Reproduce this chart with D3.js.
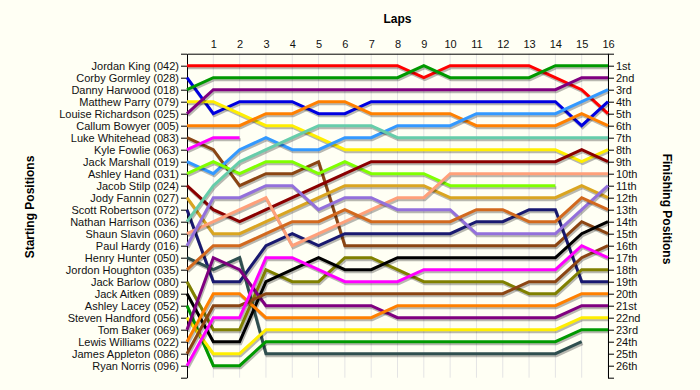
<!DOCTYPE html>
<html>
<head>
<meta charset="utf-8">
<script src="https://cdn.jsdelivr.net/npm/d3@7/dist/d3.min.js"></script>
<style>
  html, body { margin: 0; padding: 0; background: #fffff4; }
  svg { display: block; font-family: "Liberation Sans", Arial, sans-serif; }
</style>
</head>
<body>
<div id="lapChart"></div>
<script>
const laps = [0, 1, 2, 3, 4, 5, 6, 7, 8, 9, 10, 11, 12, 13, 14, 15, 16]

const drivers = [
  "Jordan King (042)", "Corby Gormley (028)", "Danny Harwood (018)", "Matthew Parry (079)",
  "Louise Richardson (025)", "Callum Bowyer (005)", "Luke Whitehead (083)", "Kyle Fowlie (063)",
  "Jack Marshall (019)", "Ashley Hand (031)", "Jacob Stilp (024)", "Jody Fannin (027)",
  "Scott Robertson (072)", "Nathan Harrison (036)", "Shaun Slavin (060)", "Paul Hardy (016)",
  "Henry Hunter (050)", "Jordon Houghton (035)", "Jack Barlow (080)", "Jack Aitken (089)",
  "Ashley Lacey (052)", "Steven Handford (056)", "Tom Baker (069)", "Lewis Williams (022)",
  "James Appleton (086)", "Ryan Norris (096)"
]

const finishLabels = [
  "1st", "2nd", "3rd", "4th", "5th", "6th", "7th", "8th", "9th", "10th", "11th", "12th", "13th",
  "14th", "15th", "16th", "17th", "18th", "19th", "20th", "21st", "22nd", "23rd", "24th", "25th", "26th"
]

// running position of each driver, lap 0 (grid) onwards; short rows = retired
const lapPositions = [
  [1, 1, 1, 1, 1, 1, 1, 1, 1, 2, 1, 1, 1, 1, 2, 3, 5],
  [2, 5, 4, 4, 4, 5, 5, 4, 4, 4, 4, 4, 4, 4, 4, 6, 4],
  [3, 2, 2, 2, 2, 2, 2, 2, 2, 1, 2, 2, 2, 2, 1, 1, 1],
  [4, 4, 5, 6, 6, 7, 8, 8, 8, 8, 8, 8, 8, 8, 8, 9, 8],
  [5, 3, 3, 3, 3, 3, 3, 3, 3, 3, 3, 3, 3, 3, 3, 2, 2],
  [6, 6, 6, 5, 5, 4, 4, 5, 5, 5, 5, 6, 6, 6, 6, 5, 6],
  [7, 8, 11, 10, 10, 9, 16, 16, 16, 16, 16, 16, 16, 16, 16, 14, 15],
  [8, 7, 7],
  [9, 10, 8, 7, 8, 8, 7, 7, 6, 6, 6, 5, 5, 5, 5, 4, 3],
  [10, 9, 10, 9, 9, 10, 9, 10, 10, 10, 11, 11, 11, 11, 11],
  [11, 13, 14, 13, 12, 11, 10, 9, 9, 9, 9, 9, 9, 9, 9, 8, 9],
  [12, 15, 15, 14, 13, 12, 11, 11, 11, 11, 12, 12, 12, 12, 12, 11, 12],
  [13, 19, 19, 16, 15, 16, 15, 15, 15, 15, 15, 14, 14, 13, 13, 19, 19],
  [14, 11, 9, 8, 7, 6, 6, 6, 7, 7, 7, 7, 7, 7, 7, 7, 7],
  [15, 14, 13, 12, 16, 15, 14, 13, 12, 12, 10, 10, 10, 10, 10, 10, 10],
  [16, 12, 12, 11, 11, 13, 12, 12, 13, 13, 13, 15, 15, 15, 15, 13, 11],
  [17, 18, 17, 25, 25, 25, 25, 25, 25, 25, 25, 25, 25, 25, 25, 24],
  [18, 16, 16, 15, 14, 14, 13, 14, 14, 14, 14, 13, 13, 14, 14, 12, 13],
  [19, 23, 23, 18, 19, 19, 17, 17, 18, 19, 19, 19, 19, 20, 20, 18, 18],
  [20, 24, 24, 19, 18, 17, 18, 18, 17, 17, 17, 17, 17, 17, 17, 15, 14],
  [21, 26, 26, 24, 24, 24, 24, 24, 24, 24, 24, 24, 24, 24, 24, 23, 23],
  [22, 25, 25, 23, 23, 23, 23, 23, 23, 23, 23, 23, 23, 23, 23, 22, 22],
  [23, 17, 18, 21, 21, 21, 21, 21, 22, 22, 22, 22, 22, 22, 22, 21, 21],
  [24, 20, 20, 22, 22, 22, 22, 22, 21, 21, 21, 21, 21, 21, 21, 20, 20],
  [25, 21, 21, 20, 20, 20, 20, 20, 20, 20, 20, 20, 20, 19, 19, 17, 16],
  [26, 22, 22, 17, 17, 18, 19, 19, 19, 18, 18, 18, 18, 18, 18, 16, 17]
]

const lineColors = [
  "#ff0000", "#0000e0", "#009900", "#ffee00", "#800080", "#ff8000", "#8b4513", "#ff00ff",
  "#3399ff", "#80ff00", "#8b0000", "#daa520", "#191970", "#66cdaa", "#ffa07a", "#9370db",
  "#2f4f4f", "#d2691e", "#808000", "#000000", "#009900", "#ffee00", "#800080", "#ff8000",
  "#8b4513", "#ff00ff"
]

const width = 700
const height = 390
const plot = { left: 187, right: 608, top: 53.7, bottom: 377.7 }

const svg = d3.select("#lapChart")
  .append("svg")
  .attr("width", width)
  .attr("height", height)

const x = d3.scaleLinear()
  .domain([laps[0], laps[laps.length - 1]])
  .range([plot.left, plot.right])

const y = d3.scaleLinear()
  .domain([0, drivers.length + 1])
  .range([plot.top, plot.bottom])

const positionTicks = d3.range(0, drivers.length + 2)

// Grid
svg.append("g")
  .selectAll("line")
  .data(laps.slice(1))
  .join("line")
  .attr("x1", d => x(d))
  .attr("x2", d => x(d))
  .attr("y1", plot.top)
  .attr("y2", plot.bottom)
  .attr("stroke", "#e4e4e4")
  .attr("stroke-width", 1)

// Axes
const styleAxis = (g) => {
  g.selectAll(".domain").attr("stroke", "#000")
  g.selectAll(".tick line").attr("stroke", "#000")
  g.selectAll(".tick text")
    .attr("fill", "#111")
    .style("font-size", "11px")
    .style("font-family", "\"Liberation Sans\", Arial, sans-serif")
}

svg.append("g")
  .attr("transform", `translate(0,${plot.top})`)
  .call(d3.axisTop(x).tickValues(laps.slice(1)).tickSize(0).tickSizeOuter(0).tickPadding(6))
  .call(styleAxis)

svg.append("g")
  .attr("transform", `translate(${plot.left},0)`)
  .call(
    d3.axisLeft(y)
      .tickValues(positionTicks)
      .tickSize(6)
      .tickSizeOuter(0)
      .tickPadding(2)
      .tickFormat(d => drivers[d - 1] || "")
  )
  .call(styleAxis)

svg.append("g")
  .attr("transform", `translate(${plot.right},0)`)
  .call(
    d3.axisRight(y)
      .tickValues(positionTicks)
      .tickSize(6)
      .tickSizeOuter(0)
      .tickPadding(2)
      .tickFormat(d => finishLabels[d - 1] || "")
  )
  .call(styleAxis)

// Lines
const lapLine = d3.line()
  .x((_d, i) => x(laps[i]))
  .y(d => y(d))

const lines = svg.append("g")

lapPositions.forEach((positions, i) => {
  lines.append("path")
    .attr("d", lapLine(positions))
    .attr("transform", "translate(1,2)")
    .attr("fill", "none")
    .attr("stroke", "#000")
    .attr("stroke-opacity", 0.28)
    .attr("stroke-width", 3)

  lines.append("path")
    .attr("d", lapLine(positions))
    .attr("fill", "none")
    .attr("stroke", lineColors[i])
    .attr("stroke-width", 3)
})

// Titles
svg.append("text")
  .attr("x", (plot.left + plot.right) / 2)
  .attr("y", 23)
  .attr("text-anchor", "middle")
  .style("font-size", "12px")
  .style("font-weight", "bold")
  .text("Laps")

svg.append("text")
  .attr("transform", "translate(34,207) rotate(-90)")
  .attr("text-anchor", "middle")
  .style("font-size", "12px")
  .style("font-weight", "bold")
  .text("Starting Positions")

svg.append("text")
  .attr("transform", "translate(663,209) rotate(90)")
  .attr("text-anchor", "middle")
  .style("font-size", "12px")
  .style("font-weight", "bold")
  .text("Finishing Positions")
</script>
</body>
</html>
